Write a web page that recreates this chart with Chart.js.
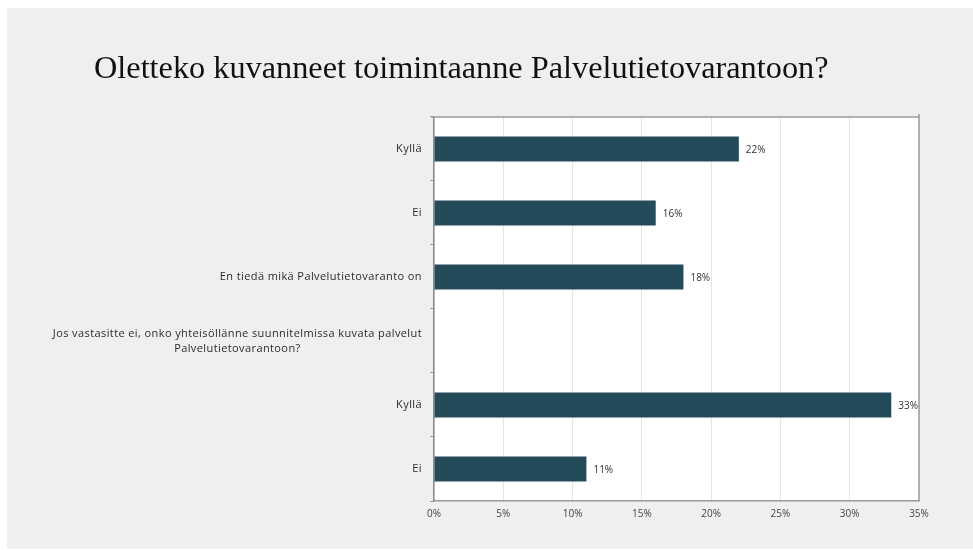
<!DOCTYPE html>
<html>
<head>
<meta charset="utf-8">
<script src="https://cdn.jsdelivr.net/npm/chart.js@4/dist/chart.umd.min.js"></script>
<style>
  html, body { margin: 0; padding: 0; background: #fff; }
  #panel { position: absolute; left: 7px; top: 8px; width: 966px; height: 541px; background: #efeff1; }
</style>
</head>
<body>
<div id="panel"><canvas id="chart"></canvas></div>
<script>
// ——— Data ———
const title = 'Oletteko kuvanneet toimintaanne Palvelutietovarantoon?';
const categories = [
  'Kyllä',
  'Ei',
  'En tiedä mikä Palvelutietovaranto on',
  ['Jos vastasitte ei, onko yhteisöllänne suunnitelmissa kuvata palvelut', 'Palvelutietovarantoon?'],
  'Kyllä',
  'Ei'
];
const values = [22, 16, 18, null, 33, 11];
const xTicks = [0, 5, 10, 15, 20, 25, 30, 35];

const SANS = '"Open Sans", Lato, sans-serif';

// white plot background + top/right frame
const plotFrame = {
  id: 'plotFrame',
  beforeDraw(chart) {
    const { ctx, chartArea: a } = chart;
    ctx.save();
    ctx.fillStyle = '#ffffff';
    ctx.fillRect(a.left, a.top, a.right - a.left, a.bottom - a.top);
    ctx.restore();
  },
  afterDraw(chart) {
    const { ctx, chartArea: a } = chart;
    ctx.save();
    ctx.strokeStyle = '#9a9a9a';
    ctx.lineWidth = 1.5;
    ctx.beginPath();
    ctx.moveTo(a.left - 3, a.top);
    ctx.lineTo(a.right, a.top);
    ctx.lineTo(a.right, a.bottom);
    ctx.stroke();
    ctx.beginPath();
    ctx.moveTo(a.right, a.top);
    ctx.lineTo(a.right, a.top - 3);
    ctx.stroke();
    ctx.restore();
  }
};

// category labels: right aligned, multi-line ones centred on their widest line
const catLabels = {
  id: 'catLabels',
  afterDraw(chart) {
    const { ctx, chartArea: a } = chart;
    const y = chart.scales.y;
    const right = a.left - 12;
    ctx.save();
    ctx.font = '11px ' + SANS;
    ctx.letterSpacing = '0.4px';
    ctx.fillStyle = '#2b2b2b';
    ctx.textBaseline = 'middle';
    categories.forEach((c, i) => {
      const cy = y.getPixelForTick(i);
      if (Array.isArray(c)) {
        const w = Math.max(...c.map(l => ctx.measureText(l).width));
        const cx = right - w / 2;
        const lh = 15;
        ctx.textAlign = 'center';
        c.forEach((l, j) => ctx.fillText(l, cx, cy + (j - (c.length - 1) / 2) * lh));
      } else {
        ctx.textAlign = 'right';
        ctx.fillText(c, right, cy);
      }
    });
    ctx.restore();
  }
};

// value labels at bar ends
const valueLabels = {
  id: 'valueLabels',
  afterDatasetsDraw(chart) {
    const { ctx } = chart;
    const meta = chart.getDatasetMeta(0);
    ctx.save();
    ctx.font = '10px ' + SANS;
    ctx.fillStyle = '#333';
    ctx.textAlign = 'left';
    ctx.textBaseline = 'middle';
    meta.data.forEach((bar, i) => {
      if (values[i] == null) return;
      ctx.fillText(values[i] + '%', bar.x + 7, bar.y + 1);
    });
    ctx.restore();
  }
};

new Chart(document.getElementById('chart'), {
  type: 'bar',
  data: {
    labels: categories,
    datasets: [{
      data: values,
      backgroundColor: '#244b5a',
      borderWidth: 0,
      barPercentage: 0.39,
      categoryPercentage: 1
    }]
  },
  options: {
    indexAxis: 'y',
    responsive: true,
    maintainAspectRatio: false,
    animation: false,
    layout: { padding: { left: 87, right: 54, top: 0, bottom: 0 } },
    plugins: {
      legend: { display: false },
      tooltip: { enabled: false },
      title: {
        display: true,
        text: title,
        align: 'start',
        color: '#111',
        font: { family: '"Liberation Serif", "DejaVu Serif", serif', size: 32.3, weight: 'normal', lineHeight: 1.2 },
        padding: { top: 42, bottom: 28.2 }
      }
    },
    scales: {
      x: {
        min: 0,
        max: 35,
        afterFit: s => { s.height = 48; },
        afterBuildTicks: s => { s.ticks = xTicks.map(v => ({ value: v })); },
        grid: { color: '#e6e6e6', lineWidth: 1, drawTicks: false },
        border: { color: '#9a9a9a', width: 1.5 },
        ticks: {
          padding: 7,
          color: '#444',
          font: { family: SANS, size: 10 },
          callback: v => v + '%'
        }
      },
      y: {
        afterFit: s => { s.width = 340; },
        grid: { drawOnChartArea: false, offset: true, tickLength: 4, color: '#9a9a9a' },
        border: { color: '#8a8a8a', width: 1.5 },
        ticks: { display: false }
      }
    }
  },
  plugins: [plotFrame, catLabels, valueLabels]
});
</script>
</body>
</html>
